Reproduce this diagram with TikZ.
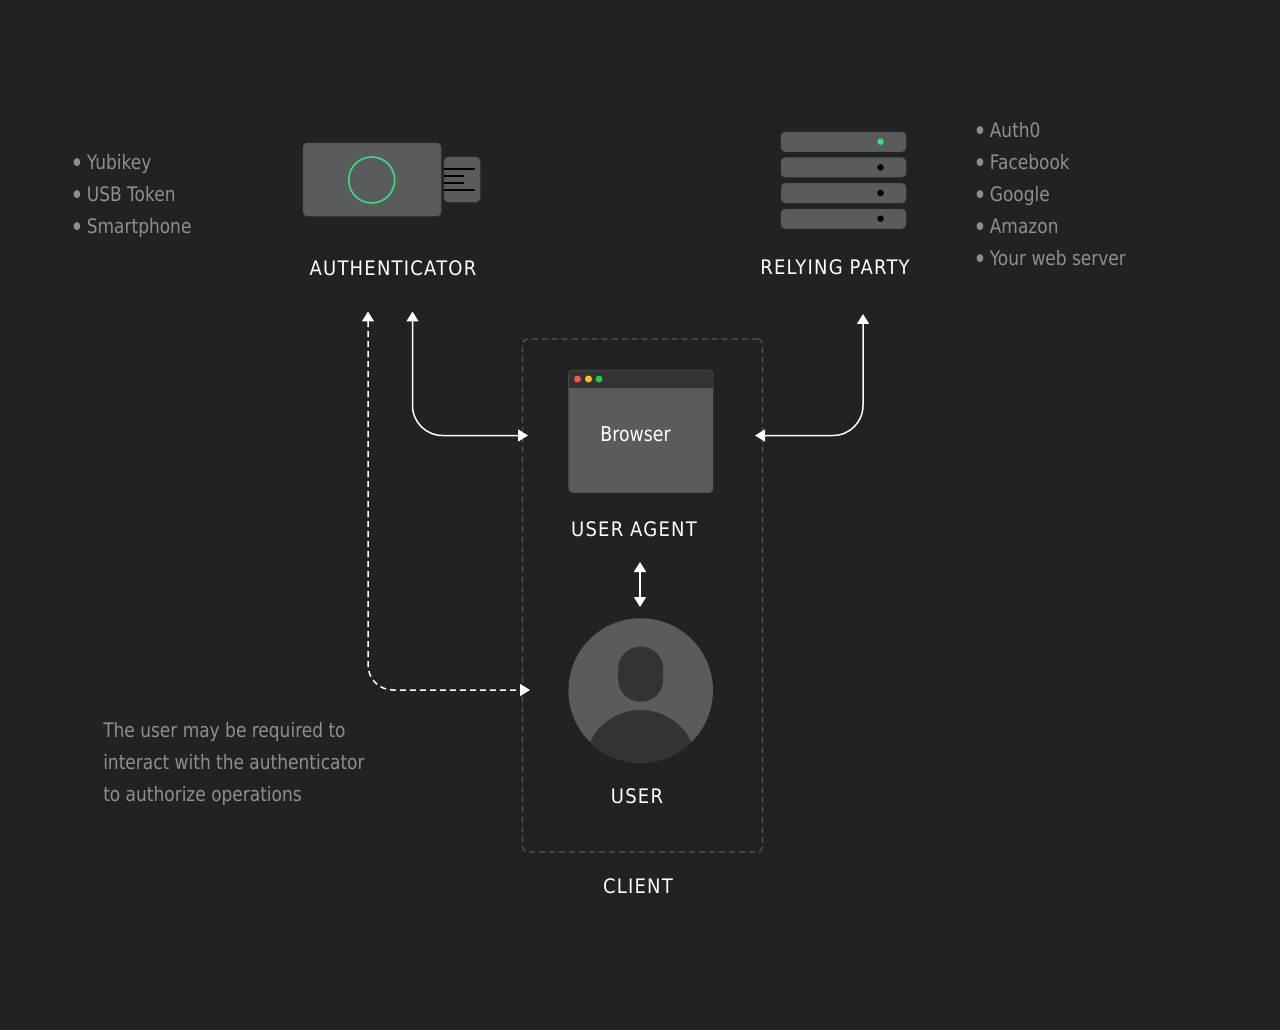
\documentclass[tikz,border=0pt]{standalone}
\usepackage{fontspec}
\usepackage{graphicx}
\usetikzlibrary{arrows.meta}
\newfontfamily\bodyf[FakeStretch=0.85]{DejaVu Sans}
\newfontfamily\labf[FakeStretch=0.9,LetterSpace=6]{DejaVu Sans}
\definecolor{bgc}{HTML}{212224}
\definecolor{panelc}{HTML}{5A5B5C}
\definecolor{edgec}{HTML}{565759}
\definecolor{darkc}{HTML}{323335}
\definecolor{txtc}{HTML}{8E8F90}
\definecolor{dashc}{HTML}{55565A}
\definecolor{greenc}{HTML}{3DDC84}
\def\px{0.75pt}
\newcommand{\bl}{\raisebox{-2.4pt}{\fontsize{20}{18}\selectfont •}\hspace{2.4pt}}
\tikzset{
  x=0.75pt,y=-0.75pt,
  panel/.style={draw=edgec,line width=1*\px,fill=panelc,rounded corners=4*\px,anchor=north west,inner sep=0pt,outer sep=0pt},
  pin/.style={draw=black,line width=2*\px},
  dot/.style={circle,inner sep=0pt,outer sep=0pt,minimum size=#1*\px},
  lab/.style={text=white,anchor=base,inner sep=0pt,font=\labf\fontsize{15}{18}\selectfont},
  note/.style={text=txtc,anchor=base west,inner sep=0pt,font=\bodyf\fontsize{15}{18}\selectfont},
  link/.style={draw=white,line width=1.5*\px,rounded corners=30*\px,{Triangle[width=12*\px,length=10*\px]}-{Triangle[width=12*\px,length=10*\px]}},
  twoway/.style={draw=white,line width=1.5*\px,{Triangle[width=12*\px,length=10*\px]}-{Triangle[width=12*\px,length=10*\px]}},
  dlink/.style={link,dash pattern=on 6*\px off 4*\px,rounded corners=25*\px},
}
\begin{document}
\begin{tikzpicture}
\useasboundingbox (0,0) rectangle (1280,1030);
\fill[bgc] (0,0) rectangle (1280,1030);

% USB key
\node[panel,minimum width=35.5*\px,minimum height=44.5*\px] (plug) at (444.3,157.3) {};
\node[panel,minimum width=137.5*\px,minimum height=72.5*\px] (usb) at (303.3,143.3) {};
\coordinate (p1a) at (444,168.7); \coordinate (p1b) at (475,168.7);
\coordinate (p2a) at (444,175.7); \coordinate (p2b) at (464,175.7);
\coordinate (p3a) at (444,182.7); \coordinate (p3b) at (464,182.7);
\coordinate (p4a) at (444,190);   \coordinate (p4b) at (475,190);
\draw[pin] (p1a)--(p1b); \draw[pin] (p2a)--(p2b); \draw[pin] (p3a)--(p3b); \draw[pin] (p4a)--(p4b);
\node[dot=46,draw=greenc,line width=1.6*\px] (ring) at (371.7,180) {};
\node[lab] (authl) at (393,275.5) {AUTHENTICATOR};

% servers
\foreach \n/\y/\c in {1/132.3/greenc,2/158/black,3/183.6/black,4/209.3/black}{
  \node[panel,minimum width=124.5*\px,minimum height=19*\px] (srv\n) at (781.3,\y) {};
  \node[dot=6.5,fill=\c] (led\n) at (880.5,\y+9.4) {};
}
\node[lab] (rpl) at (835,274.5) {RELYING PARTY};

% lists
\node[note] (a1) at (70,169.5) {\bl Yubikey};
\node[note] (a2) at (70,201.5) {\bl USB Token};
\node[note] (a3) at (70,233.5) {\bl Smartphone};
\node[note] (r1) at (973,137.5) {\bl Auth0};
\node[note] (r2) at (973,169.5) {\bl Facebook};
\node[note] (r3) at (973,201.5) {\bl Google};
\node[note] (r4) at (973,233.5) {\bl Amazon};
\node[note] (r5) at (973,265.5) {\bl Your web server};

% client frame
\node[draw=dashc,line width=1.2*\px,dash pattern=on 6*\px off 4*\px,rounded corners=5*\px,minimum width=240*\px,minimum height=513*\px,anchor=north west,inner sep=0pt,outer sep=0pt] (client) at (522.5,339) {};
\node[lab] (clientl) at (638,893.5) {CLIENT};

% browser
\node[panel,minimum width=144*\px,minimum height=122*\px] (browser) at (568.8,370.3) {};
\begin{scope}
\clip[rounded corners=4*\px] (568.8,370.3) rectangle (712.8,492.3);
\fill[darkc] (568.8,370.3) rectangle (712.8,388);
\fill[edgec] (568.8,387.5) rectangle (712.8,389);
\end{scope}
\node[dot=7,fill={rgb,255:red,255;green,80;blue,80}] (bred) at (577.5,379) {};
\node[dot=7,fill={rgb,255:red,255;green,189;blue,46}] (byel) at (588.5,379) {};
\node[dot=7,fill={rgb,255:red,40;green,200;blue,64}] (bgrn) at (599,379) {};
\node[text=white,anchor=base,inner sep=0pt,font=\bodyf\fontsize{15.3}{18}\selectfont] (bt) at (635.5,441) {Browser};
\node[lab] (ual) at (634,536) {USER AGENT};

% user
\node[circle,fill=panelc,minimum size=144.5*\px,inner sep=0pt,outer sep=0pt] (user) at (640.7,690.5) {};
\begin{scope}
\clip (640.7,690.5) circle (72.25);
\fill[darkc] (640.7,766) circle (56);
\end{scope}
\node[fill=darkc,rounded corners=22*\px,minimum width=45*\px,minimum height=55*\px,inner sep=0pt,outer sep=0pt] (head) at (640.7,674.2) {};
\node[lab] (userl) at (637,803) {USER};

% paragraph
\node[note] (t1) at (103,737.5) {The user may be required to};
\node[note] (t2) at (103,769.5) {interact with the authenticator};
\node[note] (t3) at (103,801.5) {to authorize operations};

% connectors
\coordinate (authA) at (412.5,311.5);
\coordinate (browserA) at (528,435.5);
\coordinate (authB) at (368,311.5);
\coordinate (userB) at (530,690);
\coordinate (rpA) at (863,314);
\coordinate (browserB) at (755,435.5);
\coordinate (uaC) at (640,562);
\coordinate (userC) at (640,607);
\draw[link] (authA) |- (browserA);
\draw[link] (rpA) |- (browserB);
\draw[dlink] (authB) |- (userB);
\draw[twoway] (uaC) -- (userC);
\end{tikzpicture}
\end{document}
